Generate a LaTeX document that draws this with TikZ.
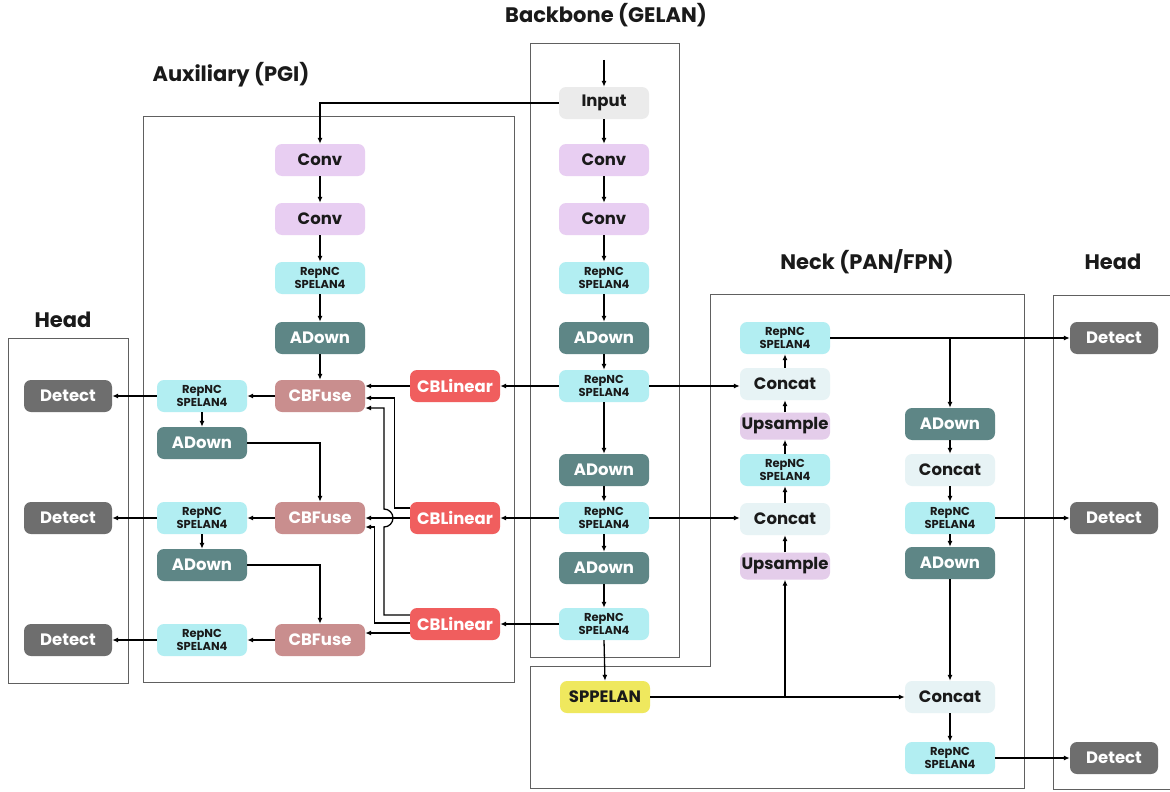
\documentclass[tikz,border=0pt]{standalone}
\usepackage{fontspec}
\setmainfont{Poppins}
\usetikzlibrary{arrows.meta}
\definecolor{cInput}{HTML}{EBEBEB}
\definecolor{cConv}{HTML}{E8CEF2}
\definecolor{cUp}{HTML}{E4CDEA}
\definecolor{cRep}{HTML}{B2EEF2}
\definecolor{cAD}{HTML}{5E8686}
\definecolor{cFuse}{HTML}{C98E8E}
\definecolor{cLin}{HTML}{F05E5E}
\definecolor{cDet}{HTML}{6E6E6E}
\definecolor{cCat}{HTML}{E7F3F5}
\definecolor{cSpp}{HTML}{EFE85E}
\definecolor{cTxt}{HTML}{1A1A1A}
\definecolor{cFrame}{HTML}{606060}
\tikzset{
  blk/.style={rounded corners=7pt, minimum width=90pt, minimum height=32pt, inner sep=0pt, align=center, font=\fontsize{16.5}{18}\selectfont\bfseries, text=cTxt},
  wblk/.style={blk, text=white},
  inputbox/.style={blk, fill=cInput},
  convbox/.style={blk, fill=cConv},
  upbox/.style={blk, fill=cUp, minimum height=27pt},
  repbox/.style={blk, fill=cRep, font=\fontsize{11.5}{13.5}\selectfont\bfseries},
  adbox/.style={wblk, fill=cAD},
  fusebox/.style={wblk, fill=cFuse},
  linbox/.style={wblk, fill=cLin},
  detbox/.style={wblk, fill=cDet, minimum width=88pt},
  catbox/.style={blk, fill=cCat},
  sppbox/.style={blk, fill=cSpp},
  arr/.style={draw=black, line width=1.3pt, -{Latex[length=6pt,width=5pt]}},
  frame/.style={draw=cFrame, line width=0.9pt},
  ttl/.style={font=\fontsize{21}{24}\selectfont\bfseries, text=cTxt}
}
\begin{document}
\begin{tikzpicture}[x=1pt,y=-1pt]
\useasboundingbox (0,0) rectangle (1170,792);
\fill[white] (0,0) rectangle (1170,792);
% frames
\draw[frame] (530,43) rectangle (679,657);
\draw[frame] (143,116) rectangle (514,682);
\draw[frame] (8,338) rectangle (128,683);
\draw[frame] (710,294) -- (1024,294) -- (1024,788) -- (530,788) -- (530,666) -- (710,666) -- cycle;
\draw[frame] (1175,295) -- (1053,295) -- (1053,789) -- (1175,789);
% titles
\node[ttl] (tB) at (606,15) {Backbone (GELAN)};
\node[ttl] (tA) at (231,75) {Auxiliary (PGI)};
\node[ttl] (tN) at (867,262) {Neck (PAN/FPN)};
\node[ttl] (tHR) at (1113,262) {Head};
\node[ttl] (tHL) at (63,320) {Head};
% backbone
\node[inputbox] (bIn) at (604,103) {Input};
\node[convbox] (bC1) at (604,160) {Conv};
\node[convbox] (bC2) at (604,219) {Conv};
\node[repbox] (bR1) at (604,278) {RepNC\\SPELAN4};
\node[adbox] (bA1) at (604,338) {ADown};
\node[repbox] (bR2) at (604,386) {RepNC\\SPELAN4};
\node[adbox] (bA2) at (604,470) {ADown};
\node[repbox] (bR3) at (604,518) {RepNC\\SPELAN4};
\node[adbox] (bA3) at (604,568) {ADown};
\node[repbox] (bR4) at (604,624) {RepNC\\SPELAN4};
\node[sppbox] (bSpp) at (605,697) {SPPELAN};
\coordinate (inTop) at (604,60);
% auxiliary
\node[convbox] (aC1) at (320,160) {Conv};
\node[convbox] (aC2) at (320,219) {Conv};
\node[repbox] (aR1) at (320,278) {RepNC\\SPELAN4};
\node[adbox] (aA1) at (320,338) {ADown};
\node[fusebox] (aF1) at (320,396) {CBFuse};
\node[fusebox] (aF2) at (320,518) {CBFuse};
\node[fusebox] (aF3) at (320,640) {CBFuse};
\node[linbox] (L1) at (455,386) {CBLinear};
\node[linbox] (L2) at (455,518) {CBLinear};
\node[linbox] (L3) at (455,624) {CBLinear};
\node[repbox] (lR1) at (202,396) {RepNC\\SPELAN4};
\node[adbox] (lA1) at (202,443) {ADown};
\node[repbox] (lR2) at (202,518) {RepNC\\SPELAN4};
\node[adbox] (lA2) at (202,565) {ADown};
\node[repbox] (lR3) at (202,640) {RepNC\\SPELAN4};
\node[detbox] (lD1) at (68,396) {Detect};
\node[detbox] (lD2) at (68,518) {Detect};
\node[detbox] (lD3) at (68,640) {Detect};
\coordinate (hop) at (384,518);
% neck
\node[repbox] (nR1) at (785,338) {RepNC\\SPELAN4};
\node[catbox] (nCc1) at (785,384) {Concat};
\node[upbox] (nU1) at (785,426) {Upsample};
\node[repbox] (nR2) at (785,470) {RepNC\\SPELAN4};
\node[catbox] (nCc2) at (785,519) {Concat};
\node[upbox] (nU2) at (785,566) {Upsample};
\node[adbox] (mA1) at (950,424) {ADown};
\node[catbox] (mCc1) at (950,470) {Concat};
\node[repbox] (mR1) at (950,518) {RepNC\\SPELAN4};
\node[adbox] (mA2) at (950,563) {ADown};
\node[catbox] (mCc2) at (950,697) {Concat};
\node[repbox] (mR2) at (950,758) {RepNC\\SPELAN4};
\node[detbox] (rD1) at (1114,338) {Detect};
\node[detbox] (rD2) at (1114,518) {Detect};
\node[detbox] (rD3) at (1114,758) {Detect};
% backbone arrows
\draw[arr] (inTop) -- (bIn.north);
\foreach \a/\b in {bIn/bC1,bC1/bC2,bC2/bR1,bR1/bA1,bA1/bR2,bR2/bA2,bA2/bR3,bR3/bA3,bA3/bR4,bR4/bSpp}
  \draw[arr] (\a.south) -- (\b.north);
% auxiliary arrows
\draw[arr] (bIn.west) -| (aC1.north);
\foreach \a/\b in {aC1/aC2,aC2/aR1,aR1/aA1,aA1/aF1,lR1/lA1,lR2/lA2}
  \draw[arr] (\a.south) -- (\b.north);
\draw[arr] (bR2.west) -- (L1.east);
\draw[arr] (bR3.west) -- (L2.east);
\draw[arr] (bR4.west) -- (L3.east);
\draw[arr] (L1.west) -- (L1.west -| aF1.east);
\draw[arr] ([yshift=10pt]L2.west) -- ++(-15,0) |- ([yshift=-2pt]aF1.east);
\draw[arr] ([yshift=9pt]L3.west) -| ([yshift=-9pt]hop) arc[start angle=90,end angle=-90,radius=9] |- ([yshift=-12pt]aF1.east);
\draw[arr] (L2.west) -- (aF2.east);
\draw[arr] ([yshift=1pt]L3.west) -- ++(-35,0) |- ([yshift=-9pt]aF2.east);
\draw[arr] ([yshift=-9pt]L3.west) -- ([yshift=7pt]aF3.east);
\draw[arr] (aF1.west) -- (lR1.east);
\draw[arr] (aF2.west) -- (lR2.east);
\draw[arr] (aF3.west) -- (lR3.east);
\draw[arr] (lR1.west) -- (lD1.east);
\draw[arr] (lR2.west) -- (lD2.east);
\draw[arr] (lR3.west) -- (lD3.east);
\draw[arr] (lA1.east) -| (aF2.north);
\draw[arr] (lA2.east) -| (aF3.north);
% neck arrows
\draw[arr] (bR2.east) -- (bR2.east -| nCc1.west);
\draw[arr] (bR3.east) -- (bR3.east -| nCc2.west);
\foreach \a/\b in {nCc1/nR1,nU1/nCc1,nR2/nU1,nCc2/nR2,nU2/nCc2}
  \draw[arr] (\a.north) -- (\b.south);
\draw[arr] (bSpp.east) -- (mCc2.west);
\draw[arr] (bSpp.east -| nU2.south) -- (nU2.south);
\draw[arr] (nR1.east) -- (rD1.west);
\draw[arr] (nR1.east -| mA1.north) -- (mA1.north);
\foreach \a/\b in {mA1/mCc1,mCc1/mR1,mR1/mA2,mA2/mCc2,mCc2/mR2}
  \draw[arr] (\a.south) -- (\b.north);
\draw[arr] (mR1.east) -- (rD2.west);
\draw[arr] (mR2.east) -- (rD3.west);
\end{tikzpicture}
\end{document}
